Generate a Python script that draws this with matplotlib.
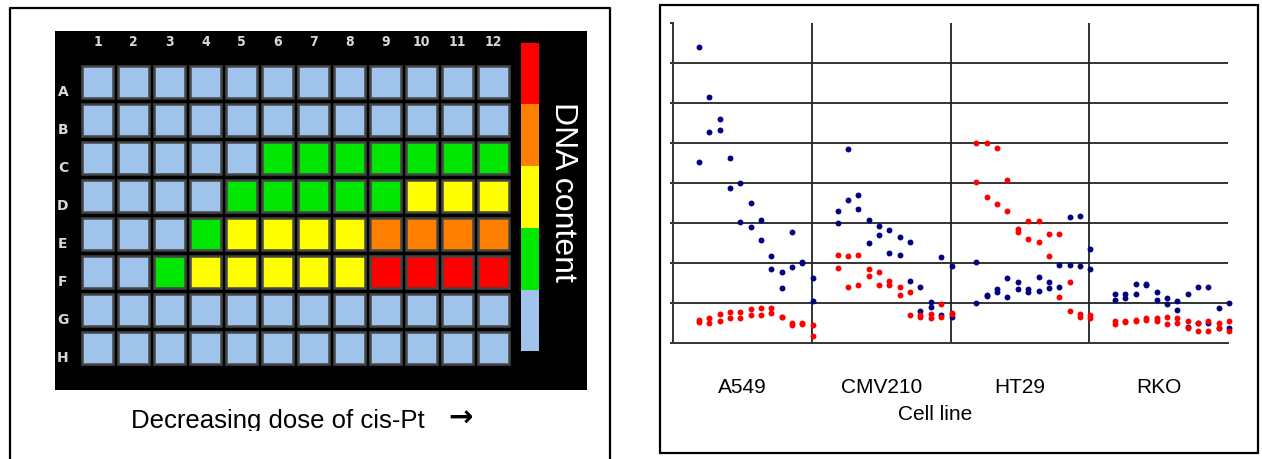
import matplotlib
matplotlib.use("Agg")
import matplotlib.pyplot as plt
from matplotlib.patches import Rectangle
from matplotlib.transforms import Bbox
import numpy as np

plt.rcParams['font.family'] = ['Liberation Sans', 'DejaVu Sans']

# ---- plate data (0=blue, 1=green, 2=yellow, 3=orange, 4=red)
rows = ['A', 'B', 'C', 'D', 'E', 'F', 'G', 'H']
cols = [str(i) for i in range(1, 13)]
plate = [
    [0, 0, 0, 0, 0, 0, 0, 0, 0, 0, 0, 0],
    [0, 0, 0, 0, 0, 0, 0, 0, 0, 0, 0, 0],
    [0, 0, 0, 0, 0, 1, 1, 1, 1, 1, 1, 1],
    [0, 0, 0, 0, 1, 1, 1, 1, 1, 2, 2, 2],
    [0, 0, 0, 1, 2, 2, 2, 2, 3, 3, 3, 3],
    [0, 0, 1, 2, 2, 2, 2, 2, 4, 4, 4, 4],
    [0, 0, 0, 0, 0, 0, 0, 0, 0, 0, 0, 0],
    [0, 0, 0, 0, 0, 0, 0, 0, 0, 0, 0, 0],
]
level_colors = ['#9fc3eb', '#00e600', '#ffff00', '#ff8000', '#ff0000']
cbar_levels = [4, 3, 2, 1, 0]  # top to bottom

# ---- scatter data: two replicates per dose, 12 doses per cell line
cell_lines = ['A549', 'CMV210', 'HT29', 'RKO']
blue = {
    'A549': [(7.41, 4.52), (6.14, 5.28), (5.60, 5.32), (4.63, 3.87), (4.01, 3.03), (3.51, 2.89),
             (3.08, 2.57), (2.17, 1.85), (1.77, 1.38), (2.78, 1.91), (2.03, 2.00), (1.63, 1.05)],
    'CMV210': [(3.29, 3.00), (4.84, 3.58), (3.69, 3.36), (3.08, 2.49), (2.93, 2.71), (2.83, 2.24),
               (2.64, 2.21), (2.53, 1.56), (1.41, 0.80), (1.02, 0.91), (2.14, 0.69), (1.92, 0.65)],
    'HT29': [(2.02, 1.01), (1.20, 1.18), (1.34, 1.27), (1.63, 1.16), (1.52, 1.34), (1.34, 1.27),
             (1.66, 1.30), (1.52, 1.38), (1.95, 1.41), (3.14, 1.95), (3.18, 1.92), (2.35, 1.84)],
    'RKO': [(1.23, 1.08), (1.23, 1.12), (1.48, 1.23), (1.48, 1.45), (1.27, 1.08), (1.12, 0.98),
            (1.05, 0.83), (1.23, 0.40), (1.41, 0.51), (1.41, 0.51), (0.87, 0.37), (1.01, 0.37)],
}
red = {
    'A549': [(0.57, 0.53), (0.63, 0.51), (0.72, 0.54), (0.77, 0.62), (0.77, 0.62), (0.84, 0.69),
             (0.88, 0.69), (0.88, 0.76), (0.66, 0.64), (0.51, 0.44), (0.51, 0.47), (0.44, 0.18)],
    'CMV210': [(2.21, 1.88), (2.18, 1.41), (2.21, 1.45), (1.85, 1.67), (1.78, 1.45), (1.56, 1.45),
               (1.41, 1.19), (1.27, 0.69), (0.69, 0.65), (0.73, 0.62), (0.98, 0.65), (0.76, 0.73)],
    'HT29': [(4.99, 4.02), (4.99, 3.64), (4.88, 3.48), (4.08, 3.29), (2.85, 2.78), (3.04, 2.61),
             (3.04, 2.53), (2.72, 2.18), (2.72, 1.16), (1.52, 0.80), (0.73, 0.66), (0.69, 0.62)],
    'RKO': [(0.54, 0.47), (0.54, 0.52), (0.57, 0.54), (0.62, 0.57), (0.62, 0.54), (0.65, 0.47),
            (0.62, 0.51), (0.54, 0.37), (0.51, 0.29), (0.54, 0.29), (0.51, 0.37), (0.54, 0.29)],
}

W, H = 1262, 459
fig = plt.figure(figsize=(W / 100, H / 100), dpi=100)


def fpos(x0, y0, x1, y1):
    return [x0 / W, 1 - y1 / H, (x1 - x0) / W, (y1 - y0) / H]


# frames around the two panels
frame = fig.add_axes([0, 0, 1, 1])
frame.set_xlim(0, W)
frame.set_ylim(H, 0)
frame.axis('off')
frame.plot([10, 10, 610, 610], [H + 5, 8, 8, H + 5], color='black', lw=1.6)
frame.add_patch(Rectangle((660, 5), 598, 448, fill=False, ec='black', lw=1.6))

# ---- plate image
ax1 = fig.add_axes(fpos(55, 31, 587, 390))
ax1.set_facecolor('black')
ax1.set_xlim(-0.18, 14.6)
ax1.set_ylim(8.1, -1.34)
ax1.set_xticks([])
ax1.set_yticks([])
for s in ax1.spines.values():
    s.set_visible(False)

for r, row in enumerate(plate):
    for c, lev in enumerate(row):
        ax1.add_patch(Rectangle((c + 1 - 0.42, r - 0.42), 0.84, 0.84,
                                fc=level_colors[lev], ec='#454545', lw=1.8))

for c, lab in enumerate(cols):
    ax1.text(c + 1, -1.05, lab, color='#d8d8d8', fontsize=10, fontweight='bold',
             family='DejaVu Sans', fontstretch='condensed', ha='center', va='center')
for r, lab in enumerate(rows):
    ax1.text(0.04, r + 0.26, lab, color='#d8d8d8', fontsize=10, fontweight='bold',
             family='DejaVu Sans', ha='center', va='center')

seg = 8.11 / len(cbar_levels)
for i, lev in enumerate(cbar_levels):
    ax1.bar(13.01, seg, width=0.5, bottom=-1.03 + i * seg, color=level_colors[lev],
            align='center', linewidth=0)

ax1.text(13.93, 2.9, 'DNA content', color='white', fontsize=23, rotation=-90,
         ha='center', va='center')

cap = fig.text(278 / W, 1 - 421 / H, 'Decreasing dose of cis-Pt', fontsize=18.5,
               ha='center', va='center')
cap.set_clip_box(Bbox([[0, H - 431], [W, H]]))
cap.set_clip_on(True)
fig.text(460 / W, 1 - 419 / H, '\u2192', fontsize=21, fontweight='bold',
         family='DejaVu Sans', ha='center', va='center')

# ---- scatter plot
ax2 = fig.add_axes(fpos(673, 23, 1228, 343))
gw = 13.4
ax2.set_xlim(0, 4 * gw)
ax2.set_ylim(0, 8)
for s in ['top', 'right']:
    ax2.spines[s].set_visible(False)
for s in ['left', 'bottom']:
    ax2.spines[s].set_color('#333333')
    ax2.spines[s].set_linewidth(1.4)
ax2.set_yticks(np.arange(0, 9))
ax2.set_yticklabels([])
ax2.tick_params(axis='y', length=2.5, width=1.4, color='#333333')
for yv in range(1, 8):
    ax2.axhline(yv, color='#333333', lw=1.4, zorder=1)
for g in range(1, 4):
    ax2.axvline(g * gw, color='#222222', lw=1.3, zorder=1)

for g, name in enumerate(cell_lines):
    x = g * gw + 1.5 + np.arange(1, 13)
    for series, col in [(blue, '#000080'), (red, '#ff0000')]:
        vals = np.array(series[name])
        for rep in range(2):
            ax2.scatter(x, vals[:, rep], s=18, color=col, marker='o', linewidths=0,
                        zorder=3, clip_on=False)

ax2.set_xticks([g * gw + gw / 2 for g in range(4)])
ax2.set_xticklabels(cell_lines, fontsize=15)
ax2.tick_params(axis='x', length=0, pad=25)
fig.text(935 / W, 1 - 415 / H, 'Cell line', fontsize=15, ha='center', va='center')

fig.savefig('out.png', dpi=100)
